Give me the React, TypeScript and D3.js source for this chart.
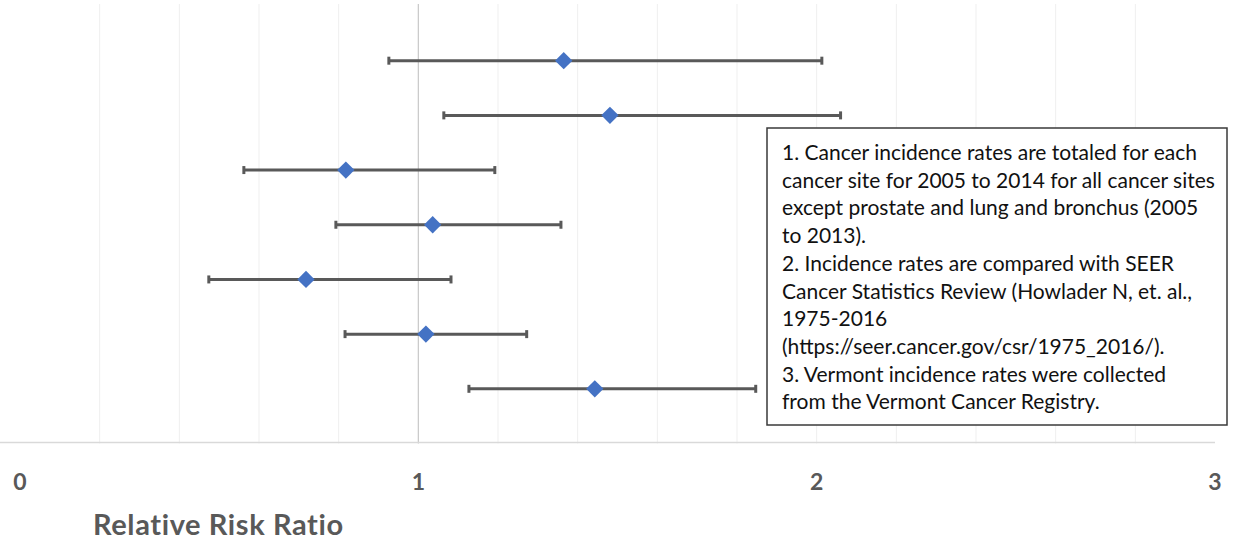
import { useEffect, useRef } from 'react';
import * as d3 from 'd3';

// rows from top to bottom (y value in the excel scatter)
const rowPos = [7, 6, 5, 4, 3, 2, 1];
const riskRatio = [1.365, 1.481, 0.818, 1.036, 0.718, 1.019, 1.443];
const lowerCI = [0.926, 1.064, 0.562, 0.793, 0.474, 0.816, 1.127];
const upperCI = [2.013, 2.06, 1.192, 1.358, 1.082, 1.272, 1.847];
const xTicks = [0, 1, 2, 3];
const gridTicks = [0.2, 0.4, 0.6, 0.8, 1.2, 1.4, 1.6, 1.8, 2, 2.2, 2.4, 2.6, 2.8];

const noteLines = [
  '1. Cancer incidence rates are totaled for each',
  'cancer site for 2005 to 2014 for all cancer sites',
  'except prostate and lung and bronchus (2005',
  'to 2013).',
  '2. Incidence rates are compared with SEER',
  'Cancer Statistics Review (Howlader N, et. al.,',
  '1975-2016',
  '(https://seer.cancer.gov/csr/1975_2016/).',
  '3. Vermont incidence rates were collected',
  'from the Vermont Cancer Registry.',
];

const ForestPlot = () => {
  const ref = useRef(null);

  useEffect(() => {
    const width = 1236;
    const height = 540;
    const font = 'Lato, "Open Sans", sans-serif';

    const x = d3.scaleLinear().domain([0, 3]).range([20, 1215]);
    const y = d3.scaleLinear().domain([0, 8]).range([443.5, 6]);

    const svg = d3.select(ref.current);
    svg.selectAll('*').remove();
    svg.attr('width', width).attr('height', height);

    svg.append('rect').attr('width', width).attr('height', height).attr('fill', '#fff');

    // light gridlines
    svg
      .append('g')
      .selectAll('line')
      .data(gridTicks)
      .join('line')
      .attr('x1', (d) => x(d))
      .attr('x2', (d) => x(d))
      .attr('y1', y(8) - 2)
      .attr('y2', y(0))
      .attr('stroke', '#efefef')
      .attr('stroke-width', 1);

    // reference line at RR = 1
    svg
      .append('line')
      .attr('x1', x(1))
      .attr('x2', x(1))
      .attr('y1', y(8) - 2)
      .attr('y2', y(0))
      .attr('stroke', '#c8c8c8')
      .attr('stroke-width', 1.2);

    // axis line
    svg
      .append('line')
      .attr('x1', 0)
      .attr('x2', x(3))
      .attr('y1', y(0) - 1)
      .attr('y2', y(0) - 1)
      .attr('stroke', '#d9d9d9')
      .attr('stroke-width', 1.5);

    svg
      .append('g')
      .selectAll('text')
      .data(xTicks)
      .join('text')
      .attr('x', (d) => x(d))
      .attr('y', 490)
      .attr('text-anchor', 'middle')
      .attr('font-family', font)
      .attr('font-weight', 'bold')
      .attr('font-size', 23)
      .attr('fill', '#595959')
      .text((d) => d);

    svg
      .append('text')
      .attr('x', 93)
      .attr('y', 535)
      .attr('font-family', font)
      .attr('font-weight', 'bold')
      .attr('font-size', 29)
      .attr('letter-spacing', 0.6)
      .attr('fill', '#595959')
      .text('Relative Risk Ratio');

    const idx = d3.range(rowPos.length);

    // error bars
    const bars = svg.append('g').attr('stroke', '#595959').attr('stroke-width', 3);
    bars
      .selectAll('line.bar')
      .data(idx)
      .join('line')
      .attr('class', 'bar')
      .attr('x1', (i) => x(lowerCI[i]))
      .attr('x2', (i) => x(upperCI[i]))
      .attr('y1', (i) => y(rowPos[i]))
      .attr('y2', (i) => y(rowPos[i]));
    bars
      .selectAll('line.lo')
      .data(idx)
      .join('line')
      .attr('class', 'lo')
      .attr('x1', (i) => x(lowerCI[i]))
      .attr('x2', (i) => x(lowerCI[i]))
      .attr('y1', (i) => y(rowPos[i]) - 4)
      .attr('y2', (i) => y(rowPos[i]) + 4);
    bars
      .selectAll('line.hi')
      .data(idx)
      .join('line')
      .attr('class', 'hi')
      .attr('x1', (i) => x(upperCI[i]))
      .attr('x2', (i) => x(upperCI[i]))
      .attr('y1', (i) => y(rowPos[i]) - 4)
      .attr('y2', (i) => y(rowPos[i]) + 4);

    // diamond markers
    svg
      .append('g')
      .selectAll('path')
      .data(idx)
      .join('path')
      .attr('d', d3.symbol(d3.symbolSquare, 150)())
      .attr('transform', (i) => `translate(${x(riskRatio[i])},${y(rowPos[i])}) rotate(45)`)
      .attr('fill', '#4472C4');

    // notes box
    const box = svg.append('g');
    box
      .append('rect')
      .attr('x', 767)
      .attr('y', 128)
      .attr('width', 460)
      .attr('height', 297)
      .attr('fill', '#fff')
      .attr('stroke', '#3a3a3a')
      .attr('stroke-width', 1.5);
    box
      .selectAll('text')
      .data(noteLines)
      .join('text')
      .attr('x', 782)
      .attr('y', (d, i) => 160 + i * 27.7)
      .attr('font-family', font)
      .attr('font-size', 21)
      .attr('fill', '#111')
      .text((d) => d);
  }, [ref]);

  return <svg ref={ref} style={{ position: 'absolute', left: 0, top: 0 }} />;
};

export default function App() {
  return (
    <div>
      <ForestPlot />
    </div>
  );
}
